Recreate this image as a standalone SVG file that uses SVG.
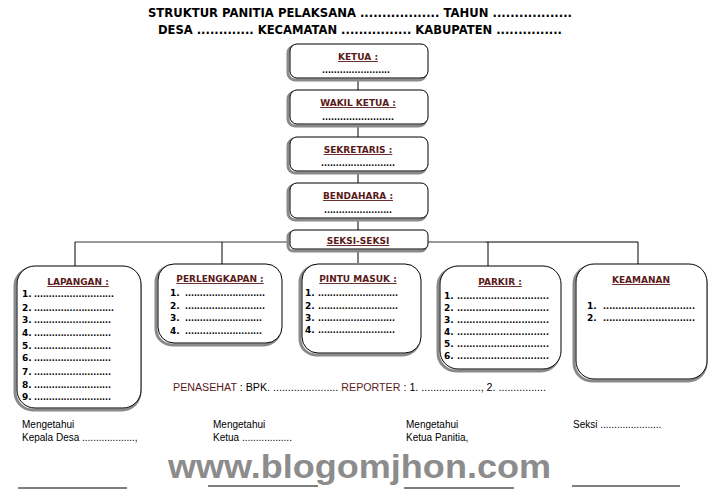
<svg xmlns="http://www.w3.org/2000/svg" width="717" height="497" viewBox="0 0 717 497">
<style>
.title{font-family:"DejaVu Sans",Verdana,sans-serif;font-weight:bold;font-size:11.5px;fill:#000}
.hd{font-family:"DejaVu Sans",Verdana,sans-serif;font-weight:bold;font-size:9px;fill:#5a1a1a;text-decoration:underline}
.it{font-family:"DejaVu Sans",Verdana,sans-serif;font-weight:bold;font-size:9px;fill:#000}
.sm{font-family:"Liberation Sans",Arial,sans-serif;font-size:10px;fill:#000}
.rd{fill:#5a1a1a}
.shadow{fill:none;stroke:#8a8a8a;stroke-width:3}
.box{fill:#fff;stroke:#000;stroke-width:1}
.ln{stroke:#000;stroke-width:1;fill:none}
.wm{font-family:"Liberation Sans",Arial,sans-serif;font-weight:bold;font-size:33px;fill:#8c8c8c}
</style>
<rect width="717" height="497" fill="#fff"/>
<text class="title" x="360" y="17" text-anchor="middle" textLength="424" lengthAdjust="spacingAndGlyphs">STRUKTUR PANITIA PELAKSANA .................. TAHUN ..................</text>
<text class="title" x="360" y="34" text-anchor="middle" textLength="404" lengthAdjust="spacingAndGlyphs">DESA ............. KECAMATAN ................ KABUPATEN ...............</text>
<g id="connectors">
<line class="ln" x1="358" y1="79" x2="358" y2="91"/>
<line class="ln" x1="358" y1="126" x2="358" y2="138"/>
<line class="ln" x1="358" y1="173" x2="358" y2="184"/>
<line class="ln" x1="358" y1="220" x2="358" y2="231"/>
<line class="ln" x1="358" y1="251" x2="358" y2="263" stroke="#000"/>
<line x1="75" y1="242" x2="288" y2="242" stroke="#777" stroke-width="1.5"/>
<line x1="428" y1="242" x2="485" y2="242" stroke="#777" stroke-width="1.5"/>
<line class="ln" x1="485" y1="242" x2="638" y2="242"/>
<line class="ln" x1="75" y1="242" x2="75" y2="266"/>
<line class="ln" x1="222" y1="242" x2="222" y2="264"/>
<line class="ln" x1="488" y1="242" x2="488" y2="266"/>
<line class="ln" x1="638" y1="242" x2="638" y2="264"/>
</g>
<g id="ketua">
<rect class="shadow" x="288" y="46" width="138" height="34" rx="7"/>
<rect class="box" x="290" y="44" width="138" height="34" rx="7"/>
<text class="hd" x="358" y="60" text-anchor="middle">KETUA :</text>
<text class="it" x="356" y="73" text-anchor="middle" textLength="68" lengthAdjust="spacingAndGlyphs">.......................</text>
</g>
<g id="wakil">
<rect class="shadow" x="288" y="92" width="138" height="34" rx="7"/>
<rect class="box" x="290" y="90" width="138" height="34" rx="7"/>
<text class="hd" x="358" y="106" text-anchor="middle">WAKIL KETUA :</text>
<text class="it" x="358" y="120" text-anchor="middle" textLength="72" lengthAdjust="spacingAndGlyphs">........................</text>
</g>
<g id="sekretaris">
<rect class="shadow" x="288" y="139" width="138" height="34" rx="7"/>
<rect class="box" x="290" y="137" width="138" height="34" rx="7"/>
<text class="hd" x="358" y="153" text-anchor="middle">SEKRETARIS :</text>
<text class="it" x="358" y="166" text-anchor="middle" textLength="74" lengthAdjust="spacingAndGlyphs">.........................</text>
</g>
<g id="bendahara">
<rect class="shadow" x="288" y="185" width="138" height="35" rx="7"/>
<rect class="box" x="290" y="183" width="138" height="35" rx="7"/>
<text class="hd" x="358" y="199" text-anchor="middle">BENDAHARA :</text>
<text class="it" x="358" y="213" text-anchor="middle" textLength="68" lengthAdjust="spacingAndGlyphs">.......................</text>
</g>
<g id="seksi">
<rect class="shadow" x="288" y="232" width="138" height="19" rx="5"/>
<rect class="box" x="290" y="230" width="138" height="19" rx="5"/>
<text class="hd" x="358" y="244" text-anchor="middle">SEKSI-SEKSI</text>
</g>
<g id="lapangan">
<rect class="shadow" x="15" y="268" width="125" height="142" rx="18"/>
<rect class="box" x="17" y="266" width="124" height="142" rx="18"/>
<text class="hd" x="78" y="285" text-anchor="middle">LAPANGAN :</text>
<g class="it">
<text x="22" y="297">1.</text><text x="34" y="297" textLength="80" lengthAdjust="spacingAndGlyphs">...........................</text>
<text x="22" y="311">2.</text><text x="34" y="311" textLength="80" lengthAdjust="spacingAndGlyphs">...........................</text>
<text x="22" y="323">3.</text><text x="34" y="323" textLength="77" lengthAdjust="spacingAndGlyphs">..........................</text>
<text x="22" y="336">4.</text><text x="34" y="336" textLength="77" lengthAdjust="spacingAndGlyphs">..........................</text>
<text x="22" y="349">5.</text><text x="34" y="349" textLength="77" lengthAdjust="spacingAndGlyphs">..........................</text>
<text x="22" y="361">6.</text><text x="34" y="361" textLength="77" lengthAdjust="spacingAndGlyphs">..........................</text>
<text x="22" y="375">7.</text><text x="34" y="375" textLength="77" lengthAdjust="spacingAndGlyphs">..........................</text>
<text x="22" y="388">8.</text><text x="34" y="388" textLength="77" lengthAdjust="spacingAndGlyphs">..........................</text>
<text x="22" y="400">9.</text><text x="34" y="400" textLength="77" lengthAdjust="spacingAndGlyphs">..........................</text>
</g>
</g>
<g id="perlengkapan">
<rect class="shadow" x="156" y="266" width="124" height="79" rx="16"/>
<rect class="box" x="158" y="264" width="124" height="79" rx="16"/>
<text class="hd" x="220" y="282" text-anchor="middle">PERLENGKAPAN  :</text>
<g class="it">
<text x="170" y="296">1.</text><text x="185" y="296" textLength="80" lengthAdjust="spacingAndGlyphs">...........................</text>
<text x="170" y="309">2.</text><text x="185" y="309" textLength="80" lengthAdjust="spacingAndGlyphs">...........................</text>
<text x="170" y="321">3.</text><text x="185" y="321" textLength="77" lengthAdjust="spacingAndGlyphs">..........................</text>
<text x="170" y="334">4.</text><text x="185" y="334" textLength="77" lengthAdjust="spacingAndGlyphs">..........................</text>
</g>
</g>
<g id="pintu">
<rect class="shadow" x="300" y="266" width="119" height="89" rx="16"/>
<rect class="box" x="302" y="264" width="119" height="89" rx="16"/>
<text class="hd" x="358" y="282" text-anchor="middle">PINTU MASUK :</text>
<g class="it">
<text x="305" y="296">1.</text><text x="318" y="296" textLength="80" lengthAdjust="spacingAndGlyphs">...........................</text>
<text x="305" y="309">2.</text><text x="318" y="309" textLength="80" lengthAdjust="spacingAndGlyphs">...........................</text>
<text x="305" y="321">3.</text><text x="318" y="321" textLength="77" lengthAdjust="spacingAndGlyphs">..........................</text>
<text x="305" y="333">4.</text><text x="318" y="333" textLength="77" lengthAdjust="spacingAndGlyphs">..........................</text>
</g>
</g>
<g id="parkir">
<rect class="shadow" x="438" y="268" width="121" height="103" rx="18"/>
<rect class="box" x="440" y="266" width="121" height="103" rx="18"/>
<text class="hd" x="500" y="285" text-anchor="middle">PARKIR :</text>
<g class="it">
<text x="444" y="299">1.</text><text x="457" y="299" textLength="92" lengthAdjust="spacingAndGlyphs">..............................</text>
<text x="444" y="311">2.</text><text x="457" y="311" textLength="92" lengthAdjust="spacingAndGlyphs">..............................</text>
<text x="444" y="323">3.</text><text x="457" y="323" textLength="92" lengthAdjust="spacingAndGlyphs">..............................</text>
<text x="444" y="335">4.</text><text x="457" y="335" textLength="92" lengthAdjust="spacingAndGlyphs">..............................</text>
<text x="444" y="347">5.</text><text x="457" y="347" textLength="92" lengthAdjust="spacingAndGlyphs">..............................</text>
<text x="444" y="359">6.</text><text x="457" y="359" textLength="92" lengthAdjust="spacingAndGlyphs">..............................</text>
</g>
</g>
<g id="keamanan">
<rect class="shadow" x="574" y="266" width="132" height="115" rx="18"/>
<rect class="box" x="576" y="264" width="131" height="115" rx="18"/>
<text class="hd" x="641" y="283" text-anchor="middle">KEAMANAN</text>
<g class="it">
<text x="587" y="309">1.</text><text x="603" y="309" textLength="92" lengthAdjust="spacingAndGlyphs">..............................</text>
<text x="587" y="321">2.</text><text x="603" y="321" textLength="92" lengthAdjust="spacingAndGlyphs">..............................</text>
</g>
</g>
<text class="sm" x="173" y="391" textLength="373" lengthAdjust="spacingAndGlyphs"><tspan class="rd">PENASEHAT</tspan> : BPK. ...................... <tspan class="rd">REPORTER</tspan> : 1. ...................., 2. ................</text>
<g class="sm">
<text x="22" y="428">Mengetahui</text>
<text x="22" y="441">Kepala Desa ...................,</text>
<text x="213" y="428">Mengetahui</text>
<text x="213" y="441">Ketua ..................</text>
<text x="406" y="428">Mengetahui</text>
<text x="406" y="441">Ketua Panitia,</text>
<text x="573" y="428">Seksi ......................</text>
</g>
<text class="wm" x="168" y="478" textLength="383" lengthAdjust="spacingAndGlyphs">www.blogomjhon.com</text>
<g class="ln">
<line x1="18" y1="488" x2="127" y2="488"/>
<line x1="208" y1="486" x2="318" y2="486"/>
<line x1="404" y1="488" x2="514" y2="488"/>
<line x1="572" y1="486" x2="680" y2="486"/>
</g>
</svg>
